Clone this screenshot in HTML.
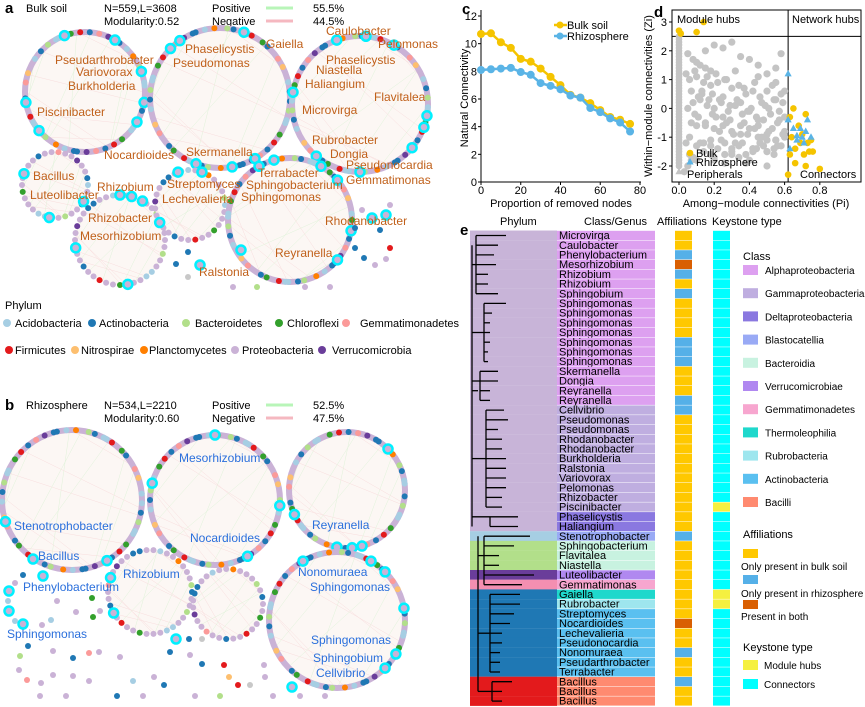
<!DOCTYPE html>
<html><head><meta charset="utf-8">
<style>
body{margin:0;background:#fff;}
svg{display:block;font-family:"Liberation Sans",Arial,sans-serif;}
</style></head>
<body>
<svg id="fig" width="865" height="707" viewBox="0 0 865 707" xmlns="http://www.w3.org/2000/svg">
<g id="pa"></g>
<g id="pb"></g>
<g id="pc"></g>
<g id="pd"></g>
<g id="pe"></g>
</svg>
<script>
const NS="http://www.w3.org/2000/svg";
// ---------- panel c data ----------
const removedNodes=[0,5,10,15,20,25,30,35,40,45,50,55,60,65,70,75];
const bulkConn=[10.7,10.75,10.1,9.7,8.9,8.7,8.2,7.6,7.0,6.3,6.1,5.7,5.2,4.7,4.5,4.2];
const rhizoConn=[8.1,8.15,8.2,8.25,7.95,7.75,7.15,6.95,6.7,6.25,6.1,5.35,5.05,4.6,4.3,3.65];
const cXTicks=[0,20,40,60,80];
const cYTicks=[0,2,4,6,8,10,12];
// ---------- panel d data ----------
const periphZiAtZero=[2.5,2.4,2.3,2.2,2.1,2.0,1.9,1.8,1.7,1.6,1.5,1.4,1.3,1.2,1.1,1.0,0.9,0.8,0.7,0.6,0.5,0.4,0.3,0.2,0.1,0.0,-0.1,-0.2,-0.3,-0.4,-0.5,-0.6,-0.7,-0.8,-0.9,-1.0,-1.1,-1.2,-1.3,-1.4,-1.5,-1.6,-1.7,-1.8,-1.9,-2.0];
const periphPi=[0.05,0.08,0.1,0.12,0.15,0.18,0.2,0.25,0.3,0.35,0.4,0.45,0.5,0.55,0.58,0.06,0.1,0.14,0.18,0.22,0.26,0.3,0.34,0.38,0.42,0.46,0.5,0.54,0.58,0.08,0.12,0.16,0.2,0.24,0.28,0.32,0.36,0.4,0.44,0.48,0.52,0.56,0.6,0.1,0.15,0.2,0.25,0.3,0.35,0.4,0.45,0.5,0.55,0.6,0.12,0.18,0.24,0.3,0.36,0.42,0.48,0.54,0.6,0.2,0.3,0.4,0.5,0.58,0.25,0.35,0.45,0.55,0.6,0.15,0.45,0.55,
0.04,0.07,0.09,0.11,0.13,0.16,0.19,0.21,0.23,0.27,0.29,0.32,0.37,0.39,0.43,0.47,0.51,0.53,0.57,0.59,0.05,0.09,0.13,0.17,0.21,0.25,0.29,0.33,0.37,0.41,0.45,0.49,0.53,0.57,0.07,0.11,0.15,0.19,0.23,0.27,0.31,0.35,0.39,0.43,0.47,0.51,0.55,0.59,0.06,0.1,0.14,0.18,0.22,0.26,0.3,0.34,0.38,0.42,0.46,0.5,0.54,0.08,0.14,0.2,0.26,0.32,0.38,0.44,0.5,0.56,0.1,0.18,0.26,0.34,0.42,0.5,0.04,0.06,0.03,0.05,0.07];
const periphZi=[1.9,1.7,1.6,1.5,1.4,1.3,2.2,2.1,2.3,1.8,1.7,1.5,1.2,1.4,1.9,1.0,1.1,0.9,0.8,0.9,1.0,0.7,0.8,0.5,0.6,0.4,0.6,0.3,0.5,0.2,0.3,0.1,0.0,0.2,-0.1,0.1,-0.2,-0.1,-0.3,-0.4,-0.2,-0.5,-0.3,-0.6,-0.5,-0.7,-0.6,-0.8,-0.9,-0.7,-1.0,-0.9,-1.1,-0.8,-1.2,-1.3,-1.1,-1.4,-1.2,-1.5,-1.3,-1.4,-1.0,-1.7,-1.6,-1.8,-1.5,-1.3,-0.3,0.2,-0.4,0.3,0.6,2.0,1.1,0.9,
1.2,0.6,1.3,0.4,0.6,1.1,0.5,1.2,0.3,1.0,0.1,1.3,0.7,-0.1,0.9,0.2,0.0,0.8,-0.1,0.2,0.0,-0.2,0.5,0.3,-0.3,0.4,-0.4,0.3,-0.5,0.0,-0.6,0.1,-0.7,-0.4,-0.5,-0.3,-0.6,-0.2,-0.8,-0.5,-0.9,-0.6,-0.9,-0.7,-1.0,-0.8,-1.1,-0.9,-1.0,-1.3,-1.2,-1.1,-1.4,-1.2,-1.5,-1.3,-1.6,-1.4,-1.2,-1.5,-1.6,-1.7,-1.5,-1.8,-1.6,-1.2,-1.9,-1.4,-1.1,-1.3,-1.8,-1.6,-1.9,-1.7,-1.4,-2.0,-1.2,-1.6,-2.2,-2.0,-1.8,1.6];
const bulkPi=[0.0,0.01,0.1,0.14,0.62,0.63,0.65,0.66,0.68,0.7,0.72,0.73,0.74,0.75,0.72,0.8,0.64,0.66,0.69,0.71,0.76,0.63];
const bulkZi=[2.7,2.6,2.65,3.0,-2.3,-0.3,0.0,-1.9,-0.6,-0.9,-0.2,-1.2,-1.5,-1.1,-2.0,-2.1,-1.0,-1.4,-1.2,-1.6,-1.5,-1.6];
const rhizoPi=[0.62,0.62,0.65,0.67,0.69,0.7,0.72,0.73,0.75,0.63,0.67,0.71,0.0];
const rhizoZi=[1.2,-0.4,-0.7,-0.95,-0.7,-1.0,-0.8,-0.4,-1.0,-1.4,-1.1,-1.2,-2.2];
const dXTicks=[0,0.2,0.4,0.6,0.8];
const dYTicks=[3,2,1,0,-1,-2];
// ---------- panel e data ----------
const genera=["Microvirga","Caulobacter","Phenylobacterium","Mesorhizobium","Rhizobium","Rhizobium","Sphingobium","Sphingomonas","Sphingomonas","Sphingomonas","Sphingomonas","Sphingomonas","Sphingomonas","Sphingomonas","Skermanella","Dongia","Reyranella","Reyranella","Cellvibrio","Pseudomonas","Pseudomonas","Rhodanobacter","Rhodanobacter","Burkholderia","Ralstonia","Variovorax","Pelomonas","Rhizobacter","Piscinibacter","Phaselicystis","Haliangium","Stenotrophobacter","Sphingobacterium","Flavitalea","Niastella","Luteolibacter","Gemmatimonas","Gaiella","Rubrobacter","Streptomyces","Nocardioides","Lechevalieria","Pseudonocardia","Nonomuraea","Pseudarthrobacter","Terrabacter","Bacillus","Bacillus","Bacillus"];
const phylumOf=["P","P","P","P","P","P","P","P","P","P","P","P","P","P","P","P","P","P","P","P","P","P","P","P","P","P","P","P","P","P","P","A","B","B","B","V","G","K","K","K","K","K","K","K","K","K","F","F","F"];
const classOf=["a","a","a","a","a","a","a","a","a","a","a","a","a","a","a","a","a","a","g","g","g","g","g","g","g","g","g","g","g","d","d","1","b","b","b","v","m","t","r","k","k","k","k","k","k","k","L","L","L"];
const affilOf=["Y","Y","B","O","B","Y","B","Y","Y","Y","Y","B","B","B","Y","Y","Y","B","B","Y","Y","Y","Y","Y","Y","Y","Y","Y","Y","Y","Y","B","Y","Y","Y","Y","Y","Y","Y","Y","O","Y","Y","B","Y","Y","B","Y","Y"];
const keyOf=["C","C","C","C","C","C","C","C","C","C","C","C","C","C","C","C","C","C","C","C","C","C","C","C","C","C","C","C","M","C","C","C","C","C","C","C","C","M","M","C","C","C","C","C","C","C","C","C","C"];
const leafLen=[30,22,18,20,12,12,22,22,8,6,6,6,4,4,18,18,10,10,18,22,12,16,16,20,20,20,20,16,16,28,28,46,30,15,15,50,38,30,30,24,20,12,12,10,10,10,20,10,10];

const fig=document.getElementById('fig');
function el(tag,attrs,parent){const e=document.createElementNS(NS,tag);for(const k in attrs)e.setAttribute(k,attrs[k]);(parent||fig).appendChild(e);return e;}
function txt(s,x,y,attrs,parent){const t=el('text',Object.assign({x:x,y:y},attrs||{}),parent);t.textContent=s;return t;}

// ====== network panels ======
const phyCol={A:"#a6cee3",K:"#1f78b4",B:"#b2df8a",C:"#33a02c",G:"#fb9a99",F:"#e31a1c",N:"#fdbf6f",L:"#ff7f00",P:"#cab2d6",V:"#6a3d9a",X:"#c8c8c8"};
const ringPat="PPPAPPKPPBPPAAPPPCPPFPPKPPGPPVPPKKPPAPPLPPPBPKPPAAPFPPPCPKPPPPGPPNP";
function ring(g,cx,cy,r,off,hubs,dense){
  el('circle',{cx:cx,cy:cy,r:r,fill:"#fcf7f4",stroke:"none"},g);
  for(let i=0;i<18;i++){const a1=(i*53+off)*Math.PI/180,a2=(i*131+off*3)*Math.PI/180;
    el('line',{x1:cx+r*Math.cos(a1),y1:cy+r*Math.sin(a1),x2:cx+r*Math.cos(a2),y2:cy+r*Math.sin(a2),stroke:i%2?"#f8dede":"#e0f3da","stroke-width":0.5},g);}
  const n=Math.max(12,Math.round(2*Math.PI*r/(dense?3.2:7)));
  if(dense) el('circle',{cx:cx,cy:cy,r:r,fill:"none",stroke:"#cab2d6","stroke-width":6},g);
  for(let i=0;i<n;i++){const a=i/n*2*Math.PI;const c=ringPat[(i+off)%ringPat.length];
    if(dense&&c==='P')continue;
    el('circle',{cx:cx+r*Math.cos(a),cy:cy+r*Math.sin(a),r:3,fill:phyCol[c]},g);}
  (hubs||[]).forEach(h=>{const a=h*Math.PI/180;el('circle',{cx:cx+r*Math.cos(a),cy:cy+r*Math.sin(a),r:4.5,fill:"#cab2d6",stroke:"#00f0ff","stroke-width":2.5},g);});
}
function header(g,y,letter,name,nl,mod,pos,neg){
  txt(letter,5,y+5,{"font-size":15,"font-weight":"bold"},g);
  txt(name,26,y+4,{"font-size":11},g);
  txt(nl,104,y+4,{"font-size":11},g);
  txt(mod,104,y+17,{"font-size":11},g);
  txt("Positive",212,y+4,{"font-size":11},g);
  txt("Negative",212,y+17,{"font-size":11},g);
  el('line',{x1:266,y1:y,x2:293,y2:y,stroke:"#b8f5b8","stroke-width":3},g);
  el('line',{x1:266,y1:y+13,x2:293,y2:y+13,stroke:"#f5b8c0","stroke-width":3},g);
  txt(pos,313,y+4,{"font-size":11},g);
  txt(neg,313,y+17,{"font-size":11},g);
}
function dots(g,list){list.forEach(d=>el('circle',{cx:d[0],cy:d[1],r:3,fill:phyCol[d[2]]},g));}
const pa=document.getElementById('pa');
header(pa,8,"a","Bulk soil","N=559,L=3608","Modularity:0.52","55.5%","44.5%");
ring(pa,85,92,60,0,[250,300,140,170,10,340,30],true);
ring(pa,220,98,70,5,[225,235,110,80,290,60],true);
ring(pa,360,104,68,11,[190,250,275,300,10,20,40,90,130],true);
ring(pa,55,185,33,3,[200,100,30],false);
ring(pa,120,240,45,7,[270,285,300,80,170],false);
ring(pa,190,205,35,13,[250,150,290],false);
ring(pa,290,220,62,17,[240,255,300,320,10,40],true);
dots(pa,[[188,252,'K'],[176,264,'K'],[188,277,'X'],[233,287,'P'],[257,287,'B'],[305,287,'P'],[330,287,'P'],[355,248,'K'],[364,258,'K'],[375,265,'P'],[386,259,'P'],[390,248,'F'],[355,228,'K'],[380,230,'K'],[362,210,'P'],[390,205,'P']]);
[[386,215],[372,218],[200,265],[241,250]].forEach(p=>el('circle',{cx:p[0],cy:p[1],r:4.5,fill:"#cab2d6",stroke:"#00f0ff","stroke-width":2.5},pa));
const aLab=[["Pseudarthrobacter",55,64],["Variovorax",76,76],["Burkholderia",68,90],["Piscinibacter",37,116],["Nocardioides",104,159],["Skermanella",186,156],["Phaselicystis",185,53],["Pseudomonas",173,67],["Gaiella",266,48],["Caulobacter",326,35],["Pelomonas",378,48],["Phaselicystis",326,64],["Niastella",316,74],["Haliangium",305,88],["Flavitalea",374,101],["Microvirga",302,114],["Rubrobacter",312,144],["Dongia",330,158],["Pseudonocardia",346,169],["Gemmatimonas",346,184],["Terrabacter",258,177],["Sphingobacterium",246,189],["Sphingomonas",241,201],["Bacillus",33,180],["Luteolibacter",30,199],["Rhizobium",97,191],["Streptomyces",167,188],["Lechevalieria",162,203],["Rhizobacter",88,222],["Mesorhizobium",80,240],["Rhodanobacter",325,225],["Reyranella",275,257],["Ralstonia",199,276]];
aLab.forEach(l=>{const t=txt(l[0],l[1],l[2],{"font-size":12,fill:"#c0601a"},pa);});
// phylum legend
const lg=el('g',{},pa);
txt("Phylum",5,309,{"font-size":11},lg);
[[["A","Acidobacteria",7,15],["K","Actinobacteria",92,99],["B","Bacteroidetes",186,195],["C","Chloroflexi",279,287],["G","Gemmatimonadetes",346,360]],[["F","Firmicutes",9,15],["N","Nitrospirae",75,81],["L","Planctomycetes",144,149],["P","Proteobacteria",235,242],["V","Verrucomicrobia",322,332]]].forEach((row,ri)=>{
  const y=ri?350:323;row.forEach(it=>{el('circle',{cx:it[2],cy:y,r:4,fill:phyCol[it[0]]},lg);txt(it[1],it[3],y+4,{"font-size":11},lg);});});
const pb=document.getElementById('pb');
header(pb,405,"b","Rhizosphere","N=534,L=2210","Modularity:0.60","52.5%","47.5%");
ring(pb,72,500,70,2,[162,60],true);
ring(pb,215,500,65,9,[270,195,5,60],true);
ring(pb,347,490,58,4,[315,155,100,85,75],true);
ring(pb,150,592,42,6,[200,150],false);
ring(pb,228,604,35,15,[],false);
ring(pb,337,620,68,8,[240,300,315,350,30,45],true);
dots(pb,[[23,575,'K'],[15,583,'P'],[8,601,'A'],[15,621,'A'],[51,620,'A'],[42,625,'P'],[57,601,'P'],[92,598,'C'],[93,617,'C'],[76,612,'P'],[100,611,'P'],[28,646,'K'],[20,656,'B'],[53,651,'P'],[73,658,'K'],[89,653,'G'],[19,670,'P'],[27,680,'G'],[41,683,'P'],[53,675,'P'],[73,676,'P'],[89,681,'P'],[99,652,'P'],[120,657,'P'],[133,681,'A'],[154,677,'P'],[164,685,'K'],[170,652,'K'],[190,655,'P'],[202,664,'K'],[224,665,'F'],[229,677,'N'],[238,685,'F'],[250,685,'X'],[264,665,'P'],[265,677,'P'],[40,696,'P'],[66,696,'P'],[117,696,'K'],[143,696,'P'],[195,696,'P'],[220,696,'B'],[273,696,'P'],[300,696,'P'],[325,696,'P'],[189,639,'K'],[202,639,'X']]);
[[33,559],[43,576],[9,591],[9,611],[23,624],[176,639],[292,687]].forEach(p=>el('circle',{cx:p[0],cy:p[1],r:4.5,fill:"#cab2d6",stroke:"#00f0ff","stroke-width":2.5},pb));
const bLab=[["Mesorhizobium",179,462],["Stenotrophobacter",14,530],["Nocardioides",190,542],["Reyranella",312,529],["Bacillus",38,560],["Phenylobacterium",23,591],["Rhizobium",123,578],["Nonomuraea",298,576],["Sphingomonas",310,591],["Sphingomonas",7,638],["Sphingomonas",311,644],["Sphingobium",313,662],["Cellvibrio",316,677]];
bLab.forEach(l=>{const t=txt(l[0],l[1],l[2],{"font-size":12,fill:"#2a6fdc"},pb);});

// ====== panel c ======
const pc=document.getElementById('pc');
const cx=v=>481+v*(159/80), cy=v=>182-v*(166/12);
txt("c",462,14,{"font-size":15,"font-weight":"bold"},pc);
el('line',{x1:481,y1:10,x2:481,y2:182,stroke:"#000"},pc);
el('line',{x1:481,y1:182,x2:641,y2:182,stroke:"#000"},pc);
cXTicks.forEach(t=>{el('line',{x1:cx(t),y1:182,x2:cx(t),y2:185,stroke:"#000"},pc);txt(String(t),cx(t),194,{"font-size":11,"text-anchor":"middle"},pc);});
cYTicks.forEach(t=>{el('line',{x1:478,y1:cy(t),x2:481,y2:cy(t),stroke:"#000"},pc);txt(String(t),477,cy(t)+4,{"font-size":11,"text-anchor":"end"},pc);});
txt("Proportion of removed nodes",561,207,{"font-size":11,"text-anchor":"middle"},pc);
txt("Natural Connectivity",0,0,{"font-size":11,"text-anchor":"middle",transform:"translate(468,98) rotate(-90)"},pc);
function series(vals,col,name){
  const pts=vals.map((v,i)=>cx(removedNodes[i])+","+cy(v)).join(" ");
  const pl=el('polyline',{points:pts,fill:"none",stroke:col,"stroke-width":2.5},pc);
  
  vals.forEach((v,i)=>{const c=el('circle',{cx:cx(removedNodes[i]),cy:cy(v),r:4,fill:col},pc);
    });
}
series(bulkConn,"#f5c400","bulk-soil");
series(rhizoConn,"#5ab4e6","rhizosphere");
el('line',{x1:554,y1:25,x2:567,y2:25,stroke:"#f5c400","stroke-width":2.5},pc);el('circle',{cx:560,cy:25,r:3.5,fill:"#f5c400"},pc);
txt("Bulk soil",567,29,{"font-size":11},pc);
el('line',{x1:554,y1:36,x2:567,y2:36,stroke:"#5ab4e6","stroke-width":2.5},pc);el('circle',{cx:560,cy:36,r:3.5,fill:"#5ab4e6"},pc);
txt("Rhizosphere",567,40,{"font-size":11},pc);

// ====== panel d ======
const pd=document.getElementById('pd');
const dx=v=>679+v*176, dy=v=>108.4-v*28.8;
txt("d",654,17,{"font-size":15,"font-weight":"bold"},pd);
el('rect',{x:672,y:10,width:189,height:172,fill:"none",stroke:"#000"},pd);
el('line',{x1:672,y1:dy(2.5),x2:861,y2:dy(2.5),stroke:"#000"},pd);
el('line',{x1:dx(0.62),y1:10,x2:dx(0.62),y2:182,stroke:"#000"},pd);
dXTicks.forEach(t=>{el('line',{x1:dx(t),y1:182,x2:dx(t),y2:185,stroke:"#000"},pd);txt(t.toFixed(1),dx(t),194,{"font-size":11,"text-anchor":"middle"},pd);});
dYTicks.forEach(t=>{el('line',{x1:669,y1:dy(t),x2:672,y2:dy(t),stroke:"#000"},pd);txt(String(t),667,dy(t)+4,{"font-size":11,"text-anchor":"end"},pd);});
txt("Among−module connectivities (Pi)",766,207,{"font-size":11,"text-anchor":"middle"},pd);
txt("Within−module connectivities (Zi)",0,0,{"font-size":11,"text-anchor":"middle",transform:"translate(652,96) rotate(-90)"},pd);
periphZiAtZero.forEach(z=>{el('circle',{cx:dx(0),cy:dy(z),r:3.3,fill:"#c4c4c4"},pd);});
periphPi.forEach((p,i)=>{const c=el('circle',{cx:dx(p),cy:dy(periphZi[i]),r:3.6,fill:"#c4c4c4"},pd);});
bulkPi.forEach((p,i)=>{const c=el('circle',{cx:dx(p),cy:dy(bulkZi[i]),r:3.3,fill:"#f5c400"},pd);});
rhizoPi.forEach((p,i)=>{const x=dx(p),y=dy(rhizoZi[i]);const t=el('polygon',{points:`${x},${y-4} ${x-3.6},${y+2.5} ${x+3.6},${y+2.5}`,fill:i==rhizoPi.length-1?"#c4c4c4":"#5ab4e6"},pd);});
txt("Module hubs",677,23,{"font-size":11},pd);
txt("Network hubs",792,23,{"font-size":11},pd);
txt("Peripherals",687,178,{"font-size":11},pd);
txt("Connectors",800,178,{"font-size":11},pd);
el('circle',{cx:690,cy:153,r:3.3,fill:"#f5c400"},pd);txt("Bulk",696,157,{"font-size":11},pd);
el('polygon',{points:"690,158 686.4,164.5 693.6,164.5",fill:"#5ab4e6"},pd);txt("Rhizosphere",696,166,{"font-size":11},pd);

// ====== panel e ======
const pe=document.getElementById('pe');
const rowTop=i=>230.5+i*9.7;
const phyBg={P:"#c8b4d8",A:"#a6cee3",B:"#b2df8a",V:"#6a3d9a",G:"#f48fb1",K:"#1f78b4",F:"#e31a1c"};
const clsCol={a:"#dda0f0",g:"#bfaee0",d:"#8a78e0","1":"#99aaf5",b:"#c8f2e0",v:"#b088f0",m:"#f7a6cf",t:"#1fd8cc",r:"#9ee6ee",k:"#5ac0f0",L:"#ff8a70"};
const affCol={Y:"#ffc800",B:"#55b0e8",O:"#d95f02"};
const keyCol={C:"#00ffff",M:"#f5f040"};
txt("e",460,235,{"font-size":15,"font-weight":"bold"},pe);
txt("Phylum",500,225,{"font-size":11},pe);
txt("Class/Genus",584,225,{"font-size":11},pe);
txt("Affiliations",657,225,{"font-size":11},pe);
txt("Keystone type",712,225,{"font-size":11},pe);
genera.forEach((g,i)=>{
  const y=rowTop(i);
  el('rect',{x:470,y:y,width:87,height:9.8,fill:phyBg[phylumOf[i]]},pe);
  const cr=el('rect',{x:557,y:y+0.3,width:98,height:9.2,fill:clsCol[classOf[i]]},pe);
  
  const t=txt(g,559,y+8.6,{"font-size":11},pe);
  const a=el('rect',{x:675,y:y+0.3,width:17,height:9.2,fill:affCol[affilOf[i]]},pe);
  const k=el('rect',{x:713,y:y+0.3,width:17,height:9.2,fill:keyCol[keyOf[i]]},pe);
});
// simplified dendrogram
const tr=el('g',{stroke:"#000","stroke-width":1.3,fill:"none"},pe);

el('line',{x1:472,y1:rowTop(1)+5,x2:472,y2:rowTop(30)+5},tr);
el('line',{x1:478,y1:rowTop(31)+5,x2:478,y2:rowTop(47)+5},tr);
el('line',{x1:472,y1:rowTop(16)+5,x2:478,y2:rowTop(16)+5},tr);
[[0,6,476],[7,13,484],[14,17,480],[18,28,486],[29,30,490],[31,36,484],[37,45,490],[46,48,492]].forEach(g=>{
  el('line',{x1:g[2],y1:rowTop(g[0])+5,x2:g[2],y2:rowTop(g[1])+5},tr);
  el('line',{x1:g[0]<31?472:478,y1:rowTop((g[0]+g[1])>>1)+5,x2:g[2],y2:rowTop((g[0]+g[1])>>1)+5},tr);
  for(let i=g[0];i<=g[1];i++) el('line',{x1:g[2],y1:rowTop(i)+5,x2:g[2]+leafLen[i],y2:rowTop(i)+5},tr);
});
// legend
const lgE=el('g',{},pe);
txt("Class",743,260,{"font-size":11},lgE);
[["a","Alphaproteobacteria"],["g","Gammaproteobacteria"],["d","Deltaproteobacteria"],["1","Blastocatellia"],["b","Bacteroidia"],["v","Verrucomicrobiae"],["m","Gemmatimonadetes"],["t","Thermoleophilia"],["r","Rubrobacteria"],["k","Actinobacteria"],["L","Bacilli"]].forEach((c,i)=>{
  const y=265+i*23.2;el('rect',{x:743,y:y,width:15,height:10,fill:clsCol[c[0]]},lgE);txt(c[1],765,y+9,{"font-size":10},lgE);});
txt("Affiliations",743,538,{"font-size":11},pe);
el('rect',{x:743,y:549,width:15,height:9,fill:affCol.Y},pe);txt("Only present in bulk soil",741,570,{"font-size":10},pe);
el('rect',{x:743,y:575,width:15,height:9,fill:affCol.B},pe);txt("Only present in rhizosphere",741,597,{"font-size":10},pe);
el('rect',{x:743,y:600,width:15,height:9,fill:affCol.O},pe);txt("Present in both",741,620,{"font-size":10},pe);
txt("Keystone type",743,651,{"font-size":11},pe);
el('rect',{x:743,y:660,width:15,height:10,fill:keyCol.M},pe);txt("Module hubs",764,669,{"font-size":10},pe);
el('rect',{x:743,y:679,width:15,height:10,fill:keyCol.C},pe);txt("Connectors",764,688,{"font-size":10},pe);
</script>
</body></html>
